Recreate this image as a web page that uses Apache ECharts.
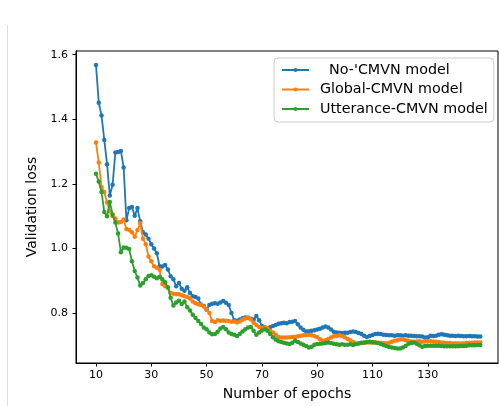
<!DOCTYPE html>
<html><head><meta charset="utf-8">
<script src="https://cdn.jsdelivr.net/npm/echarts@6/dist/echarts.min.js"></script>
<style>html,body{margin:0;padding:0;background:#fff}#c{width:499px;height:406px}</style>
</head><body><div id="c"></div>
<script>
const epochStart = 10;
const seriesNames = ["  No-'CMVN model", "Global-CMVN model", "Utterance-CMVN model"];
const xTicks = [10, 30, 50, 70, 90, 110, 130];
const yTicks = [0.8, 1.0, 1.2, 1.4, 1.6];
const noCmvn = [
1.568,1.451,1.412,1.336,1.261,1.164,1.197,1.297,1.299,1.302,
1.251,1.087,1.125,1.128,1.101,1.125,1.084,1.050,1.043,1.030,
1.013,1.000,0.985,0.945,0.944,0.949,0.935,0.914,0.905,0.883,
0.893,0.875,0.869,0.880,0.862,0.852,0.850,0.845,0.826,0.822,
0.811,0.825,0.829,0.830,0.829,0.833,0.837,0.832,0.825,0.800,
0.778,0.776,0.780,0.784,0.786,0.785,0.782,0.780,0.791,0.778,
0.760,0.756,0.753,0.756,0.760,0.763,0.767,0.768,0.770,0.768,
0.772,0.773,0.775,0.765,0.755,0.748,0.743,0.744,0.745,0.747,
0.749,0.751,0.755,0.758,0.755,0.749,0.742,0.740,0.739,0.738,
0.739,0.739,0.741,0.743,0.741,0.738,0.735,0.730,0.726,0.729,
0.732,0.735,0.736,0.735,0.733,0.732,0.731,0.731,0.730,0.731,
0.731,0.730,0.731,0.730,0.730,0.729,0.728,0.728,0.727,0.724,
0.725,0.730,0.729,0.730,0.733,0.734,0.733,0.731,0.730,0.730,
0.729,0.730,0.729,0.728,0.728,0.729,0.728,0.728,0.727,0.727];
const globalCmvn = [
1.328,1.266,1.190,1.175,1.142,1.115,1.100,1.093,1.080,1.082,
1.090,1.060,1.057,1.050,1.036,1.057,1.078,1.030,1.013,0.975,
0.960,0.945,0.940,0.934,0.890,0.883,0.878,0.862,0.860,0.858,
0.858,0.855,0.852,0.850,0.845,0.836,0.830,0.827,0.825,0.820,
0.811,0.800,0.775,0.772,0.778,0.776,0.777,0.776,0.775,0.773,
0.774,0.771,0.774,0.779,0.783,0.786,0.780,0.770,0.763,0.757,
0.754,0.755,0.753,0.745,0.740,0.733,0.726,0.724,0.724,0.724,
0.725,0.726,0.726,0.728,0.730,0.731,0.732,0.733,0.731,0.729,
0.725,0.719,0.714,0.716,0.720,0.724,0.728,0.729,0.731,0.729,
0.725,0.720,0.715,0.710,0.706,0.706,0.707,0.708,0.709,0.709,
0.708,0.709,0.708,0.708,0.707,0.706,0.708,0.711,0.714,0.716,
0.718,0.719,0.716,0.714,0.712,0.711,0.712,0.713,0.711,0.712,
0.713,0.713,0.712,0.711,0.710,0.709,0.708,0.707,0.707,0.706,
0.706,0.706,0.706,0.706,0.707,0.707,0.708,0.709,0.709,0.709];
const uttCmvn = [
1.231,1.207,1.175,1.113,1.100,1.144,1.105,1.080,1.046,0.988,
1.003,1.002,0.998,0.960,0.930,0.910,0.885,0.893,0.905,0.915,
0.917,0.912,0.908,0.912,0.905,0.895,0.880,0.847,0.823,0.833,
0.838,0.828,0.836,0.818,0.808,0.795,0.785,0.775,0.766,0.755,
0.750,0.740,0.734,0.735,0.742,0.752,0.757,0.750,0.740,0.735,
0.733,0.729,0.735,0.743,0.750,0.755,0.757,0.745,0.733,0.740,
0.746,0.750,0.745,0.735,0.725,0.718,0.713,0.710,0.708,0.706,
0.704,0.708,0.714,0.710,0.706,0.702,0.698,0.693,0.696,0.702,
0.704,0.705,0.706,0.707,0.709,0.707,0.705,0.703,0.702,0.703,
0.702,0.702,0.703,0.701,0.704,0.706,0.708,0.709,0.710,0.711,
0.710,0.709,0.707,0.704,0.701,0.698,0.695,0.693,0.692,0.690,
0.690,0.693,0.698,0.705,0.707,0.709,0.705,0.700,0.696,0.698,
0.699,0.699,0.699,0.699,0.699,0.698,0.697,0.697,0.697,0.697,
0.697,0.697,0.698,0.698,0.699,0.700,0.700,0.700,0.701,0.701];
const colors = ['#1f77b4', '#ff7f0e', '#2ca02c'];

const toPts = arr => arr.map((v, i) => [epochStart + i, v]);
const allData = [noCmvn, globalCmvn, uttCmvn];
const font = 'DejaVu Sans';
const chart = echarts.init(document.getElementById('c'), null, {renderer: 'canvas'});
chart.setOption({
  animation: false,
  backgroundColor: '#fff',
  grid: {left: 76, top: 51, right: 1, bottom: 40, show: true, borderColor: '#000', borderWidth: 1, backgroundColor: 'transparent'},
  legend: {
    orient: 'vertical', left: 274, top: 58,
    data: seriesNames,
    backgroundColor: 'rgba(255,255,255,0.8)', borderColor: '#ccc', borderWidth: 1, borderRadius: 4,
    padding: [5, 6, 6, 7], itemGap: 5.5, itemWidth: 27, itemHeight: 5,
    textStyle: {fontFamily: font, fontSize: 14.3, color: '#000', padding: [0, 0, 0, 6]}
  },
  xAxis: {
    type: 'value', min: 2.77, max: 155.4,
    name: 'Number of epochs', nameLocation: 'middle', nameGap: 24,
    nameTextStyle: {fontFamily: font, fontSize: 14, color: '#000'},
    axisLine: {show: true, lineStyle: {color: '#000', width: 1}},
    axisTick: {show: true, length: 3.5, customValues: xTicks, lineStyle: {color: '#000'}},
    axisLabel: {customValues: xTicks, margin: 7, fontFamily: font, fontSize: 11, color: '#000'},
    splitLine: {show: false}
  },
  yAxis: {
    type: 'value', min: 0.6453, max: 1.6114,
    name: 'Validation loss', nameLocation: 'middle', nameGap: 27,
    nameTextStyle: {fontFamily: font, fontSize: 14, color: '#000'},
    axisLine: {show: true, lineStyle: {color: '#000', width: 1}},
    axisTick: {show: true, length: 3.5, customValues: yTicks, lineStyle: {color: '#000'}},
    axisLabel: {customValues: yTicks, margin: 8, fontFamily: font, fontSize: 11, color: '#000',
      formatter: v => v.toFixed(1)},
    splitLine: {show: false}
  },
  graphic: [{type: 'line', shape: {x1: 7.5, y1: 25, x2: 7.5, y2: 406}, style: {stroke: '#dcdcdc', lineWidth: 1}}],
  series: allData.map((arr, k) => ({
    name: seriesNames[k], type: 'line', data: toPts(arr),
    symbol: 'circle', symbolSize: 4.5, showAllSymbol: true,
    lineStyle: {color: colors[k], width: 1.8},
    itemStyle: {color: colors[k]},
    z: 2 + k
  }))
});
</script></body></html>
